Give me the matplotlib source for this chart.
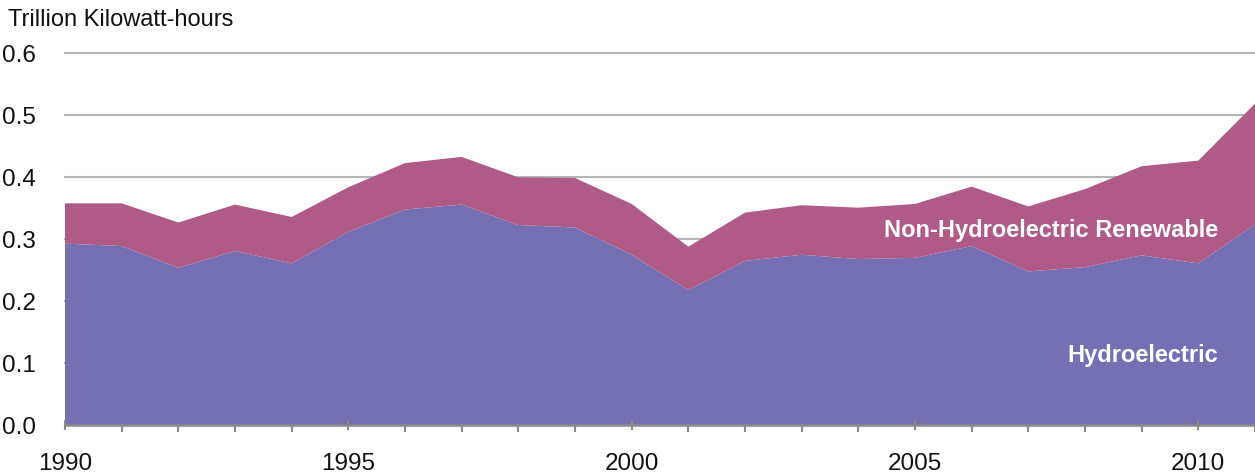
import matplotlib
matplotlib.use('Agg')
import matplotlib.pyplot as plt
from matplotlib.ticker import MultipleLocator

plt.rcParams['font.family'] = ['Liberation Sans', 'DejaVu Sans']

years = list(range(1990, 2012))
hydro = [0.293, 0.289, 0.254, 0.281, 0.261, 0.312, 0.348, 0.356, 0.323, 0.319, 0.275,
         0.218, 0.265, 0.275, 0.268, 0.270, 0.289, 0.248, 0.255, 0.274, 0.261, 0.324]
total = [0.358, 0.358, 0.327, 0.356, 0.336, 0.384, 0.423, 0.433, 0.400, 0.399, 0.357,
         0.288, 0.343, 0.355, 0.351, 0.357, 0.385, 0.353, 0.381, 0.418, 0.427, 0.519]
non_hydro = [t - h for t, h in zip(total, hydro)]

yticks = [0.0, 0.1, 0.2, 0.3, 0.4, 0.5, 0.6]
xticks = [1990, 1995, 2000, 2005, 2010]

hydro_color = '#7470b3'
other_color = '#b05a87'
grid_color = '#b3b5b7'
axis_color = '#8a8a8a'

fig = plt.figure(figsize=(12.55, 4.76), dpi=100)
ax = fig.add_axes([65 / 1255, 1 - 425 / 476, 1 - 65 / 1255, (425 - 53.5) / 476])

ax.stackplot(years, hydro, non_hydro, colors=[hydro_color, other_color], linewidth=0)

ax.set_xlim(1990, 2011)
ax.set_ylim(0, 0.6)
ax.set_yticks(yticks)
ax.set_yticklabels([f'{v:.1f}' for v in yticks])
ax.set_xticks(xticks)
ax.set_xticklabels([str(x) for x in xticks])
ax.xaxis.set_minor_locator(MultipleLocator(1))

for v in yticks[1:]:
    ax.axhline(v, color=grid_color, lw=1.5, zorder=0, clip_on=False)

for s in ['top', 'right', 'left']:
    ax.spines[s].set_visible(False)
ax.spines['bottom'].set_color(axis_color)
ax.spines['bottom'].set_linewidth(1.8)
ax.spines['bottom'].set_zorder(5)

ax.tick_params(axis='y', length=0, pad=21, labelsize=17.5, labelcolor='#111111')
ax.tick_params(axis='x', which='major', length=7, width=1.5, color=axis_color,
               direction='inout', pad=17, labelsize=17.5, labelcolor='#111111')
ax.tick_params(axis='x', which='minor', length=5, width=1.5, color=axis_color,
               direction='out')

fig.text(8 / 1255, 1 - 20 / 476, 'Trillion Kilowatt-hours', fontsize=17,
         ha='left', va='center', color='#111111')

ax.text(2010.35, 0.3145, 'Non-Hydroelectric Renewable', color='white', fontsize=17,
        fontweight='bold', ha='right', va='center')
ax.text(2010.35, 0.113, 'Hydroelectric', color='white', fontsize=17,
        fontweight='bold', ha='right', va='center')

fig.savefig('out.png', dpi=100)
